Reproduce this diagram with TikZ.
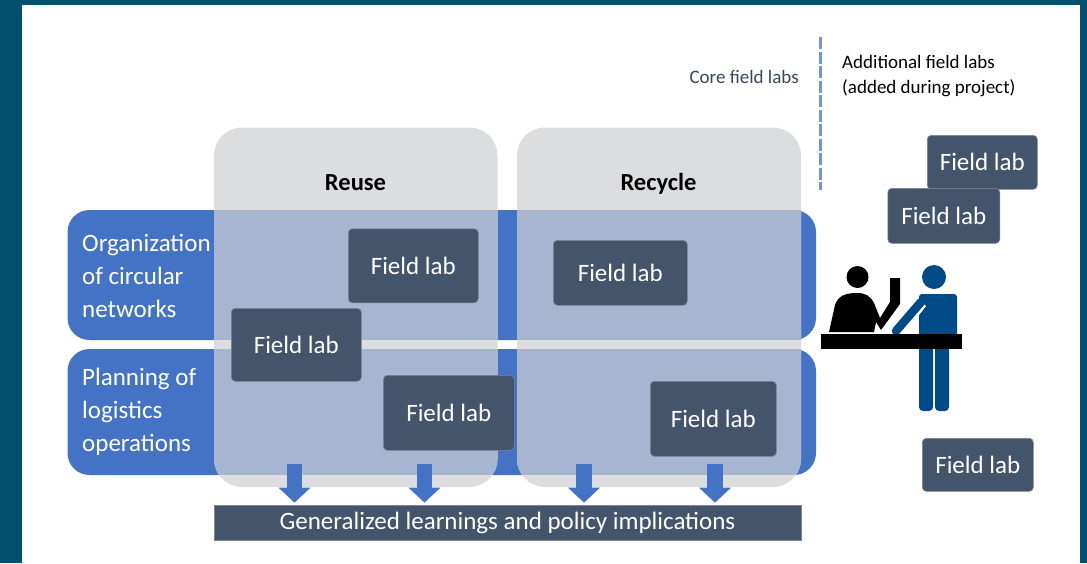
\documentclass[tikz,border=0pt]{standalone}
\usepackage{fontspec}
\setmainfont{Carlito}
\usetikzlibrary{arrows.meta}
\definecolor{teal}{HTML}{00506E}
\definecolor{bandblue}{HTML}{4472C4}
\definecolor{colgray}{HTML}{DCDDDF}
\definecolor{overlap}{HTML}{A7B5D0}
\definecolor{slate}{HTML}{44546A}
\definecolor{navy}{HTML}{004A87}
\tikzset{
 x=1pt,y=-1pt,
 band/.style={fill=bandblue,rounded corners=22pt,inner sep=0pt,anchor=north west},
 col/.style={fill=colgray,rounded corners=28pt,inner sep=0pt,anchor=north west},
 lab/.style={fill=slate,draw=slate!70!white,line width=0.6pt,rounded corners=4pt,inner sep=0pt,text=white,
   font=\fontsize{25}{29}\selectfont,anchor=north west},
 rowlabel/.style={text=white,align=left,anchor=west,inner sep=0pt,font=\fontsize{25}{33}\selectfont},
 head/.style={font=\fontsize{24.5}{28}\selectfont\bfseries,text=black,inner sep=0pt,anchor=base},
 note/.style={font=\fontsize{19}{25}\selectfont,inner sep=0pt,align=left},
 down/.style={draw=bandblue,line width=15.5pt,-{Triangle[width=31pt,length=15pt]},shorten >=2pt},
}
\begin{document}
\begin{tikzpicture}
\useasboundingbox (0,0) rectangle (1087,563);
\fill[teal] (0,0) rectangle (1087,563);
\fill[white] (22,5) rectangle (1080,563);

% bands
\path[band] (67.5,210) rectangle (816,340);
\path[band] (67.5,349) rectangle (816,475);

% columns
\path[col] (214,127.5) rectangle (497.5,487);
\path[col] (517,127.5) rectangle (801,487);

% overlap of rows and columns
\begin{scope}
 \clip[rounded corners=28pt] (214,127.5) rectangle (497.5,487);
 \fill[overlap] (200,210) rectangle (510,340);
 \fill[overlap] (200,349) rectangle (510,475);
\end{scope}
\begin{scope}
 \clip[rounded corners=28pt] (517,127.5) rectangle (801,487);
 \fill[overlap] (505,210) rectangle (810,340);
 \fill[overlap] (505,349) rectangle (810,475);
\end{scope}

% headings
\node[head] (reuse) at (355.5,190) {Reuse};
\node[head] (recycle) at (658.5,190) {Recycle};
\node[rowlabel] (row1) at (82,276) {Organization\\of circular\\networks};
\node[rowlabel] (row2) at (82,412) {Planning of\\logistics\\operations};

% bottom bar and arrows
\node[fill=slate,draw=slate!70!white,line width=0.6pt,minimum width=587pt,minimum height=35pt,inner sep=0pt,text=white,
  text height=18pt,text depth=4pt,font=\fontsize{25}{29}\selectfont] (bar) at (507.5,522.5) {Generalized learnings and policy implications};
\coordinate (a1) at (294.5,464);
\coordinate (a2) at (424.5,464);
\coordinate (a3) at (584,464);
\coordinate (a4) at (715,464);
\draw[down] (a1) -- (a1 |- bar.north);
\draw[down] (a2) -- (a2 |- bar.north);
\draw[down] (a3) -- (a3 |- bar.north);
\draw[down] (a4) -- (a4 |- bar.north);

% field labs
\node[lab,minimum width=130pt,minimum height=74pt] (fa) at (348,228.5) {Field lab};
\node[lab,minimum width=130pt,minimum height=73pt] (fb) at (231,308) {Field lab};
\node[lab,minimum width=131pt,minimum height=75pt] (fc) at (383,375) {Field lab};
\node[lab,minimum width=134pt,minimum height=65pt] (fd) at (553,240) {Field lab};
\node[lab,minimum width=126pt,minimum height=75pt] (fe) at (650,381) {Field lab};
\node[lab,minimum width=110pt,minimum height=54pt] (ff) at (927,135) {Field lab};
\node[lab,minimum width=112pt,minimum height=55pt] (fg) at (887.5,188) {Field lab};
\node[lab,minimum width=111pt,minimum height=53pt] (fh) at (922,438) {Field lab};

% dashed divider and notes
\coordinate (divtop) at (820,37);
\coordinate (divbot) at (820,190);
\draw[bandblue!75!white,line width=3pt,dash pattern=on 12pt off 2.5pt] (divtop) -- (divbot);
\node[note,anchor=east,text=slate!85!black] (core) at (799,77) {Core field labs};
\node[note,anchor=west,text=black] (add) at (842,76.5) {Additional field labs\\(added during project)};

% people at a desk
\fill[black] (857.5,277) circle (11);
\fill[navy] (934,277) circle (12);
% blue person
\fill[navy,rounded corners=3pt] (919,294) -- (957,294) -- (957,340) -- (919,340) -- cycle;
\fill[navy,rounded corners=4pt] (919,345) rectangle (933,411);
\fill[navy,rounded corners=4pt] (935,345) rectangle (949,411);
% black person
\fill[black] (829,332) -- (835,305) .. controls (838,296) and (845,293) .. (857,293)
  .. controls (866,293) and (870,296) .. (874,303) -- (880,318) -- (890,302) -- (890,278) -- (900,278) -- (900,304)
  -- (881,330) -- (876,322) -- (874,332) -- cycle;
% blue arm
\draw[white,line width=13pt] (921,302) -- (898,331);
\draw[navy,line width=8.5pt,line cap=round] (921,302) -- (896,331);
% desk
\fill[black] (821,334) rectangle (962,349);
\end{tikzpicture}
\end{document}
